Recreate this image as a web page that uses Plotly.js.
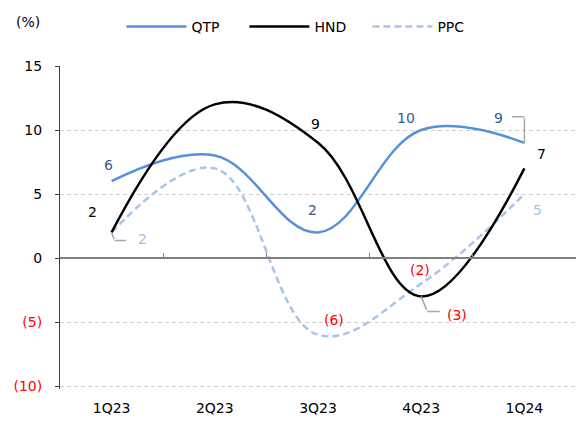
<!DOCTYPE html>
<html>
<head>
<meta charset="utf-8">
<script src="https://cdn.plot.ly/plotly-3.0.1.min.js"></script>
<style>
  html, body { margin: 0; padding: 0; background: #fff; }
  #chart { width: 577px; height: 421px; }
</style>
</head>
<body>
<div id="chart"></div>
<script>
// Quarterly series (%)
const quarters = ['1Q23', '2Q23', '3Q23', '4Q23', '1Q24'];
const qtp = [6, 8, 2, 10, 9];
const hnd = [2, 12, 9, -3, 7];
const ppc = [2, 7, -6, -2, 5];

const yTicks = [-10, -5, 0, 5, 10, 15];
const yMin = -10, yMax = 15;

const FONT = 'DejaVu Sans, Verdana, sans-serif';
const RED = '#FF0000';

function fmt(v) {
  return v < 0 ? '(' + Math.abs(v) + ')' : String(v);
}

// Label placement per series: [xshift, yshift] per point (null = no label),
// and optional elbow leader lines: [[dx1, dy1], [dx2, dy2]] in pixels (screen down = +)
const labelStyle = {
  QTP: {
    color: '#2E5C9A',
    offsets: [[-3, 16], null, [-6, 22], [-15, 12], [-26, 25]],
    leaders: { 4: [[0, -26], [-14, 0]] }
  },
  HND: {
    color: '#000000',
    offsets: [[-19, 20], null, [-3, 19], [36, -19], [17, 14]],
    leaders: { 3: [[6, 15], [14, 0]] }
  },
  PPC: {
    color: '#9DC3E6',
    offsets: [[31, -7], null, [16, 15], [-1, 14], [13, -16]],
    leaders: { 0: [[3, 8], [13, 0]] }
  }
};

const series = [
  { name: 'QTP', y: qtp, color: '#5590D9', dash: 'solid' },
  { name: 'HND', y: hnd, color: '#000000', dash: 'solid' },
  { name: 'PPC', y: ppc, color: '#A9C3EA', dash: '7px,4px' }
];

const traces = series.map((s, i) => ({
  type: 'scatter',
  mode: 'lines',
  name: s.name,
  x: quarters,
  y: s.y,
  xaxis: i === 1 ? 'x2' : 'x',
  line: { color: s.color, width: 2.5, dash: s.dash, shape: 'spline', smoothing: 1.1 },
  hoverinfo: 'skip'
}));

const annotations = [];
series.forEach(s => {
  const st = labelStyle[s.name];
  s.y.forEach((v, i) => {
    const off = st.offsets[i];
    if (!off) return;
    annotations.push({
      x: quarters[i], y: v, xref: 'x', yref: 'y',
      text: fmt(v), showarrow: false,
      xshift: off[0], yshift: off[1],
      font: { family: FONT, size: 14, color: v < 0 ? RED : st.color }
    });
    const ld = st.leaders[i];
    if (ld) {
      const [a, b] = ld;
      annotations.push({
        x: quarters[i], y: v, xref: 'x', yref: 'y', text: '',
        showarrow: true, arrowhead: 0, arrowwidth: 1.5, arrowcolor: '#A6A6A6',
        ax: a[0], ay: a[1], standoff: 0, font: { size: 1 }
      });
      annotations.push({
        x: quarters[i], y: v, xref: 'x', yref: 'y', text: '',
        xshift: a[0], yshift: -a[1],
        showarrow: true, arrowhead: 0, arrowwidth: 1.5, arrowcolor: '#A6A6A6',
        ax: b[0], ay: b[1], standoff: 0, font: { size: 1 }
      });
    }
  });
});

const tickText = yTicks.map(v => v < 0
  ? '<span style="color:' + RED + '">' + fmt(v) + '</span>'
  : fmt(v));

const xBase = {
  type: 'category',
  categoryorder: 'array',
  categoryarray: quarters,
  range: [-0.5, quarters.length - 0.5],
  showgrid: false,
  zeroline: false,
  fixedrange: true
};

// 12.8 px per unit; a little room below the lowest gridline so it is drawn
const pxPerUnit = 12.8;
const padPx = 3;
const yRange = [yMin - padPx / pxPerUnit, yMax];
const plotH = (yRange[1] - yRange[0]) * pxPerUnit;

// "(%)" unit label, placed in paper units of the taller plot area
annotations.push({
  xref: 'paper', yref: 'paper', x: -0.089, y: 1 + 44 / plotH, xanchor: 'left', yanchor: 'middle',
  text: '(%)', showarrow: false,
  font: { family: FONT, size: 14, color: '#000' }
});

const layout = {
  width: 577,
  height: 421,
  margin: { l: 60, r: 1, t: 66, b: 35 - padPx, autoexpand: false },
  paper_bgcolor: '#ffffff',
  plot_bgcolor: '#ffffff',
  font: { family: FONT, size: 14, color: '#000' },
  showlegend: true,
  legend: {
    orientation: 'h',
    x: 0.119, y: 1 + 39 / plotH, xanchor: 'left', yanchor: 'middle',
    itemwidth: 60,
    entrywidth: 48,
    font: { family: FONT, size: 14, color: '#000' },
    traceorder: 'normal'
  },
  xaxis: Object.assign({}, xBase, {
    showline: false,
    ticks: '',
    ticklabelstandoff: 12 - padPx,
    tickfont: { family: FONT, size: 14, color: '#000' }
  }),
  // baseline at zero with boundary tick marks
  xaxis2: Object.assign({}, xBase, {
    overlaying: 'x',
    anchor: 'free',
    position: (0 - yRange[0]) / (yRange[1] - yRange[0]),
    showline: true,
    linecolor: '#808080',
    linewidth: 2,
    ticks: 'inside',
    ticklen: 4,
    tickwidth: 1,
    tickcolor: '#808080',
    tickson: 'boundaries',
    showticklabels: false
  }),
  yaxis: {
    domain: [0, 1],
    range: yRange,
    tickvals: yTicks,
    ticktext: tickText,
    showline: true,
    linecolor: '#404040',
    linewidth: 1,
    ticks: 'outside',
    ticklen: 4,
    tickcolor: '#404040',
    ticklabelstandoff: 10,
    showgrid: true,
    gridcolor: '#D0D0D0',
    gridwidth: 1,
    griddash: '4px,3px',
    zeroline: false,
    fixedrange: true,
    tickfont: { family: FONT, size: 14, color: '#000' }
  },
  annotations: annotations
};

Plotly.newPlot('chart', traces, layout, { displayModeBar: false, staticPlot: true });
</script>
</body>
</html>
